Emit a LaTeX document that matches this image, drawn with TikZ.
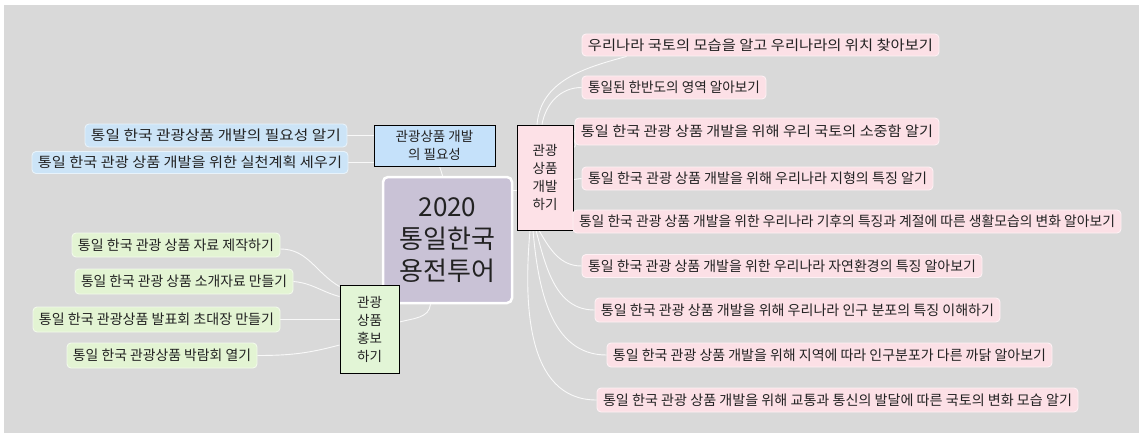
\documentclass[tikz,border=0pt]{standalone}
\usepackage{fontspec}
\usepackage{graphicx}
\setmainfont{Noto Sans CJK KR}
\usetikzlibrary{backgrounds}
\definecolor{bgc}{HTML}{D9D9D9}
\definecolor{centerc}{HTML}{C9C2D6}
\definecolor{blueboxc}{HTML}{C5E1FA}
\definecolor{blueleafc}{HTML}{CCE4F7}
\definecolor{pinkboxc}{HTML}{FDE1E7}
\definecolor{pinkleafc}{HTML}{FCE0E6}
\definecolor{greenboxc}{HTML}{E2F5D6}
\definecolor{greenleafc}{HTML}{E3F4D3}
\definecolor{txtc}{HTML}{222222}
\tikzset{
  leafbox/.style={rounded corners=4pt, draw=white!55!#1, fill=#1, line width=0.9pt, inner sep=0pt, text=txtc},
  catbox/.style={draw=black, line width=0.9pt, inner sep=0pt, align=center, text=txtc, font=\fontsize{13.5}{18}\selectfont},
  hubbox/.style={rounded corners=5pt, draw=white, line width=2.5pt, fill=centerc, inner sep=0pt, align=center, text=txtc, font=\fontsize{26}{32}\selectfont},
  conn/.style={draw=white, draw opacity=0.85, line width=0.9pt}
}
\newcommand\lf[6]{\node[leafbox=#5, minimum width=#3pt, minimum height=#4pt] (#1) at (#2) {\fontsize{14}{16}\selectfont\resizebox{\dimexpr #3pt-12pt\relax}{\height}{#6}};}
\begin{document}
\begin{tikzpicture}[x=1pt,y=-1pt]
\useasboundingbox (0,0) rectangle (1139,433);
\begin{scope}[on background layer]
\fill[white] (0,0) rectangle (1139,433);
\fill[bgc] (4,5) rectangle (1139,433);
\end{scope}
% hub and categories
\node[hubbox, minimum width=129pt, minimum height=126pt] (c) at (447.5,240) {2020\\통일한국\\용전투어};
\node[catbox, fill=blueboxc, minimum width=121pt, minimum height=41pt] (bb) at (434.5,145.5) {관광상품 개발\\의 필요성};
\node[catbox, fill=pinkboxc, minimum width=56pt, minimum height=105pt] (pb) at (545,177.5) {관광\\상품\\개발\\하기};
\node[catbox, fill=greenboxc, minimum width=59pt, minimum height=88pt] (gb) at (369.5,329) {관광\\상품\\홍보\\하기};
% blue leaves
\lf{B1}{216,135.5}{262}{23}{blueleafc}{통일 한국 관광상품 개발의 필요성 알기}
\lf{B2}{190,162.5}{316}{22}{blueleafc}{통일 한국 관광 상품 개발을 위한 실천계획 세우기}
% green leaves
\lf{G1}{176,245}{208}{24}{greenleafc}{통일 한국 관광 상품 자료 제작하기}
\lf{G2}{184,281.5}{218}{25}{greenleafc}{통일 한국 관광 상품 소개자료 만들기}
\lf{G3}{156.5,319.5}{247}{25}{greenleafc}{통일 한국 관광상품 발표회 초대장 만들기}
\lf{G4}{162,355.5}{190}{25}{greenleafc}{통일 한국 관광상품 박람회 열기}
% pink leaves
\lf{P1}{760.5,45}{357}{22}{pinkleafc}{우리나라 국토의 모습을 알고 우리나라의 위치 찾아보기}
\lf{P2}{674,87.5}{184}{23}{pinkleafc}{통일된 한반도의 영역 알아보기}
\lf{P3}{757,131.5}{364}{27}{pinkleafc}{통일 한국 관광 상품 개발을 위해 우리 국토의 소중함 알기}
\lf{P4}{757.5,178.5}{351}{23}{pinkleafc}{통일 한국 관광 상품 개발을 위해 우리나라 지형의 특징 알기}
\lf{P5}{847,221.5}{548}{23}{pinkleafc}{통일 한국 관광 상품 개발을 위한 우리나라 기후의 특징과 계절에 따른 생활모습의 변화 알아보기}
\lf{P6}{782,266}{400}{23}{pinkleafc}{통일 한국 관광 상품 개발을 위한 우리나라 자연환경의 특징 알아보기}
\lf{P7}{797.5,310}{405}{24}{pinkleafc}{통일 한국 관광 상품 개발을 위해 우리나라 인구 분포의 특징 이해하기}
\lf{P8}{829.5,355}{445}{24}{pinkleafc}{통일 한국 관광 상품 개발을 위해 지역에 따라 인구분포가 다른 까닭 알아보기}
\lf{P9}{837.5,400}{481}{24}{pinkleafc}{통일 한국 관광 상품 개발을 위해 교통과 통신의 발달에 따른 국토의 변화 모습 알기}
% connectors
\begin{scope}[on background layer]
\draw[conn] (B1.east) -- (B1.east -| bb.west);
\draw[conn] (B2.east) -- (B2.east -| bb.west);
\draw[conn] ([xshift=5pt]bb.south) to[out=-80,in=95] ([xshift=-5pt]c.north);
\draw[conn] ([yshift=50pt]c.east) -- ([yshift=50pt]c.east -| pb.west);
\draw[conn] ([xshift=-17pt]c.south) to[out=-95,in=15] ([yshift=7pt]gb.east);
\draw[conn] ([yshift=-4pt]G1.east) to[out=0,in=150] ([yshift=-2pt]gb.north west);
\draw[conn] (G2.east) to[out=-5,in=165] ([yshift=-12pt]gb.north west);
\draw[conn] (G3.east) -- (G3.east -| gb.west);
\draw[conn] (G4.east) to[out=0,in=195] ([yshift=-16pt]gb.west);
\draw[conn] ([xshift=-8pt]pb.north) to[out=85,in=195] ([xshift=45pt]P1.south west);
\draw[conn] ([xshift=-3pt]pb.north) to[out=80,in=180] (P2.west);
\draw[conn] ([yshift=30pt]pb.east) to[out=10,in=190] (P3.west);
\draw[conn] ([yshift=-2pt]pb.east) to[out=0,in=180] (P4.west);
\draw[conn] ([yshift=-40pt]pb.east) -- (P5.west);
\draw[conn] ([xshift=-6pt]pb.south) to[out=-60,in=180] (P6.west);
\draw[conn] ([xshift=-9pt]pb.south) to[out=-75,in=180] (P7.west);
\draw[conn] ([xshift=-12pt]pb.south) to[out=-85,in=180] (P8.west);
\draw[conn] ([xshift=-15pt]pb.south) to[out=-95,in=180] (P9.west);
\end{scope}
\end{tikzpicture}
\end{document}
